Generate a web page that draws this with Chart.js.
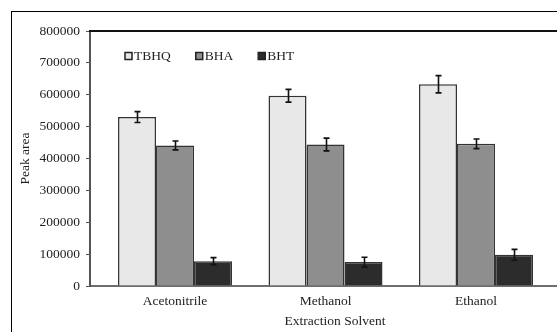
<!DOCTYPE html>
<html>
<head>
<meta charset="utf-8">
<script src="https://cdn.jsdelivr.net/npm/chart.js@4/dist/chart.umd.min.js"></script>
<style>
  html, body { margin: 0; padding: 0; background: #fff; overflow: hidden; width: 557px; height: 332px; }
  #frame { position: absolute; left: 11px; top: 11px; width: 620px; height: 400px; border: 1px solid #000; box-sizing: border-box; }
  #c { position: absolute; left: 0; top: 0; }
</style>
</head>
<body>
<div id="frame"></div>
<canvas id="c" width="580" height="332"></canvas>
<script>
// Extraction solvents on the x axis
const categories = ['Acetonitrile', 'Methanol', 'Ethanol'];

// Mean peak areas per antioxidant
const tbhq = [530000, 597000, 633000];
const bha  = [441000, 444000, 446000];
const bht  = [78000, 75000, 98000];

// Standard deviations (error bars)
const tbhqErr = [17000, 20000, 27000];
const bhaErr  = [14000, 20000, 15000];
const bhtErr  = [11000, 15000, 17000];

const yTicks = [0, 100000, 200000, 300000, 400000, 500000, 600000, 700000, 800000];

const FONT = 'Liberation Serif, Times New Roman, serif';
const TEXT = '#222';

function points(values) {
  return values.map((v, i) => ({ x: i, y: v }));
}

const series = [
  { label: 'TBHQ', values: tbhq, err: tbhqErr, color: '#e8e8e8' },
  { label: 'BHA',  values: bha,  err: bhaErr,  color: '#8e8e8e' },
  { label: 'BHT',  values: bht,  err: bhtErr,  color: '#2c2c2c' }
];

// Draws standard-deviation whiskers on top of each bar
const errorBars = {
  id: 'errorBars',
  afterDatasetsDraw(chart) {
    const ctx = chart.ctx;
    const y = chart.scales.y;
    ctx.save();
    ctx.strokeStyle = '#111';
    ctx.lineWidth = 1.6;
    chart.data.datasets.forEach((ds, di) => {
      const meta = chart.getDatasetMeta(di);
      meta.data.forEach((bar, j) => {
        const v = ds.data[j].y, e = ds.errors[j];
        const top = y.getPixelForValue(v + e);
        const bot = y.getPixelForValue(v - e);
        const x = Math.round(bar.x) + 0.5;
        ctx.beginPath();
        ctx.moveTo(x, top); ctx.lineTo(x, bot);
        ctx.moveTo(x - 3, top); ctx.lineTo(x + 3, top);
        ctx.moveTo(x - 3, bot); ctx.lineTo(x + 3, bot);
        ctx.stroke();
      });
    });
    ctx.restore();
  }
};

// Plot-area top edge
const plotFrame = {
  id: 'plotFrame',
  beforeDatasetsDraw(chart) {
    const { ctx, chartArea: a } = chart;
    ctx.save();
    ctx.strokeStyle = '#111';
    ctx.lineWidth = 2;
    ctx.beginPath();
    ctx.moveTo(a.left - 1, a.top);
    ctx.lineTo(a.right, a.top);
    ctx.stroke();
    ctx.restore();
  }
};

// Compact legend inside the plot area
const innerLegend = {
  id: 'innerLegend',
  afterDraw(chart) {
    const { ctx, chartArea: a } = chart;
    ctx.save();
    ctx.font = '13.5px ' + FONT;
    ctx.textBaseline = 'middle';
    ctx.textAlign = 'left';
    let x = a.left + 35;
    const cy = 56;
    chart.data.datasets.forEach(ds => {
      ctx.fillStyle = ds.backgroundColor;
      ctx.fillRect(x, cy - 3.5, 7, 7);
      ctx.strokeStyle = '#222';
      ctx.lineWidth = 1.5;
      ctx.strokeRect(x, cy - 3.5, 7, 7);
      ctx.fillStyle = TEXT;
      ctx.fillText(ds.label, x + 9, cy + 0.5);
      x += 9 + ctx.measureText(ds.label).width + 25;
    });
    ctx.restore();
  }
};

new Chart(document.getElementById('c'), {
  type: 'bar',
  data: {
    datasets: series.map(s => ({
      label: s.label,
      data: points(s.values),
      errors: s.err,
      backgroundColor: s.color,
      borderColor: '#333',
      borderWidth: 1.5,
      barPercentage: 1.0,
      categoryPercentage: 0.7575
    }))
  },
  options: {
    responsive: false,
    animation: false,
    layout: { padding: { left: 12, top: 31, right: 0, bottom: 0 } },
    plugins: { legend: { display: false }, tooltip: { enabled: false } },
    scales: {
      x: {
        type: 'linear',
        offset: false,
        min: -0.565,
        max: 2.691,
        afterFit(scale) { scale.height = 46; },
        afterBuildTicks(scale) { scale.ticks = categories.map((c, i) => ({ value: i })); },
        grid: { display: false, drawTicks: false },
        border: { display: true, color: '#6e6e6e', width: 2 },
        ticks: {
          padding: 7,
          color: TEXT,
          font: { family: FONT, size: 13.5 },
          callback: v => categories[v] ?? ''
        },
        title: {
          display: true,
          text: 'Extraction Solvent',
          color: TEXT,
          font: { family: FONT, size: 13.5 },
          padding: { top: 0, bottom: 2 }
        }
      },
      y: {
        min: 0,
        max: 800000,
        afterFit(scale) { scale.width = 78; },
        afterBuildTicks(scale) { scale.ticks = yTicks.map(v => ({ value: v })); },
        grid: { drawOnChartArea: false, drawTicks: true, tickLength: 4, color: '#555', lineWidth: 1 },
        border: { display: true, color: '#555', width: 2 },
        ticks: {
          padding: 6,
          color: TEXT,
          font: { family: FONT, size: 13.5 },
          callback: v => String(v)
        },
        title: {
          display: true,
          text: 'Peak area',
          color: TEXT,
          font: { family: FONT, size: 13.5 },
          padding: { top: 5, bottom: 0 }
        }
      }
    }
  },
  plugins: [plotFrame, errorBars, innerLegend]
});
</script>
</body>
</html>
